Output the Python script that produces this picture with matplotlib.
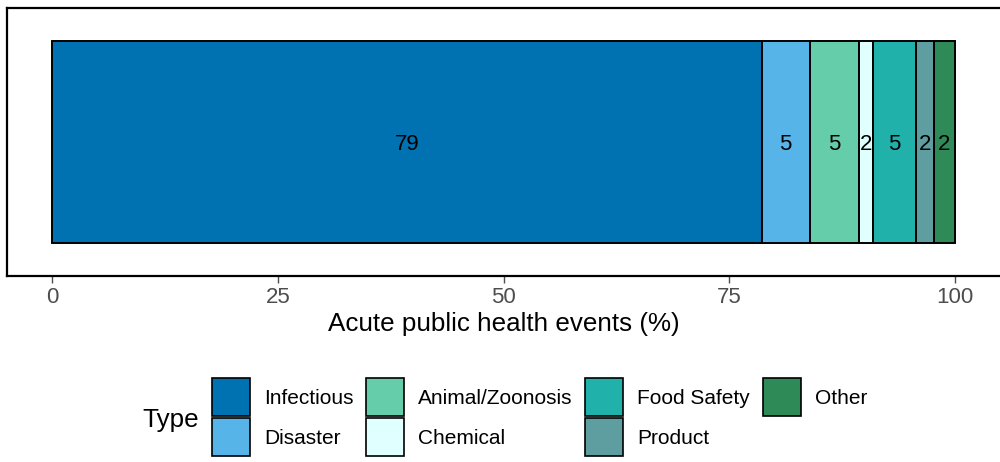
import matplotlib.pyplot as plt
from matplotlib.patches import Patch

plt.rcParams['font.family'] = ['Liberation Sans', 'DejaVu Sans']

# event types and their share (%)
types = ["Infectious", "Disaster", "Animal/Zoonosis", "Chemical",
         "Food Safety", "Product", "Other"]
shares = [78.6, 5.3, 5.5, 1.5, 4.8, 2.0, 2.3]
labels = ["79", "5", "5", "2", "5", "2", "2"]
colors = ["#0072B2", "#56B4E9", "#66CDAA", "#E0FFFF",
          "#20B2AA", "#5F9EA0", "#2E8B57"]

fig = plt.figure(figsize=(10, 4.62), dpi=100)
ax = fig.add_axes([0.007, 0.403, 0.993, 0.58])

left = 0
for t, v, lab, c in zip(types, shares, labels, colors):
    ax.barh(0, v, left=left, height=0.9, color=c, edgecolor="black", linewidth=1.4)
    ax.text(left + v / 2, -0.012, lab, ha="center", va="center", fontsize=16, color="black")
    left += v

ax.set_xlim(-5, 105)
ax.set_ylim(-0.597, 0.597)
ax.set_yticks([])
ax.set_xticks([0, 25, 50, 75, 100])
ax.tick_params(axis="x", colors="#4D4D4D", labelsize=16, length=5, width=1, pad=3)
for s in ax.spines.values():
    s.set_linewidth(1.6)
    s.set_color("black")
ax.spines["right"].set_visible(False)
ax.set_xlabel("Acute public health events (%)", fontsize=18.7, labelpad=3)

handles = [Patch(facecolor=c, edgecolor="black", linewidth=1.2) for c in colors]
fig.legend(handles, types, ncol=4, loc="center left", bbox_to_anchor=(0.212, 0.097),
           frameon=False, fontsize=15, handlelength=1.83, handleheight=2.43,
           labelspacing=0.1, handletextpad=0.67, columnspacing=0.6,
           borderpad=0, borderaxespad=0)
fig.text(0.142, 0.090, "Type", fontsize=18.7, va="center", ha="left")

fig.savefig("out.png", dpi=100)
